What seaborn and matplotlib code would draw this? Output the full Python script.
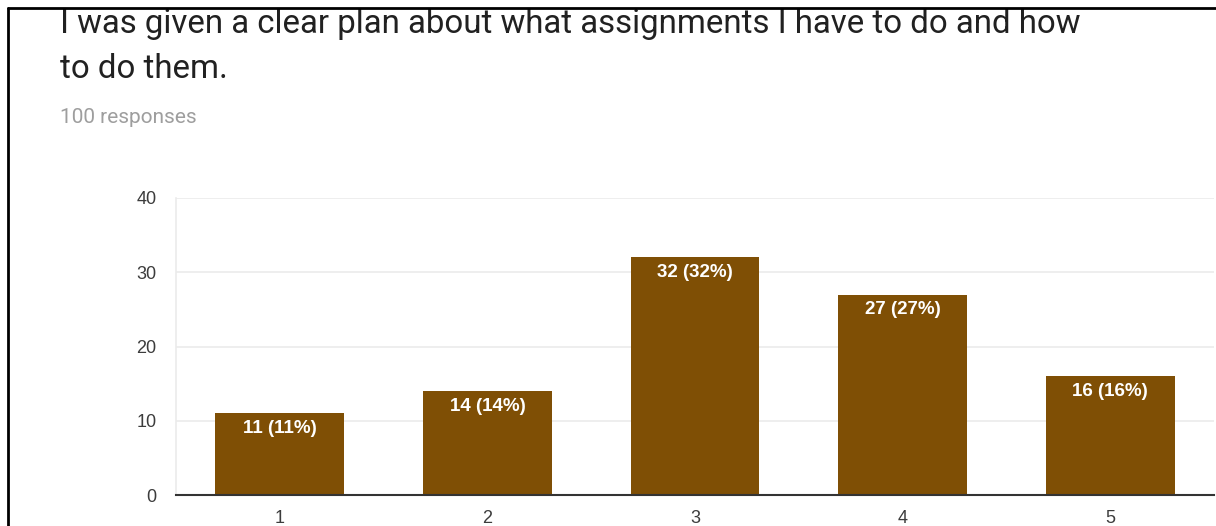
import matplotlib
matplotlib.use("Agg")
import matplotlib.pyplot as plt
import seaborn as sns
import pandas as pd
from matplotlib.patches import Rectangle
from matplotlib.lines import Line2D

# Survey answers on a 1-5 scale
ratings = ["1", "2", "3", "4", "5"]
counts = [11, 14, 32, 27, 16]
total_responses = 100
y_ticks = [0, 10, 20, 30, 40]

title_line1 = "I was given a clear plan about what assignments I have to do and how"
title_line2 = "to do them."
subtitle = f"{total_responses} responses"

sns.set_theme(style="white")
plt.rcParams["font.family"] = ["Roboto", "DejaVu Sans"]

W, H = 1216, 526
fig = plt.figure(figsize=(W / 100, H / 100), dpi=100)
fig.patch.set_facecolor("white")

def fx(px):
    return px / W

def fy(py):
    return 1 - py / H

ax = fig.add_axes([fx(176), fy(495), fx(1214) - fx(176), fy(198) - fy(495)])

df = pd.DataFrame({"rating": ratings, "count": counts})
bar_color = "#7f4f05"
sns.barplot(data=df, x="rating", y="count", color=bar_color, width=0.62,
            saturation=1, ax=ax, edgecolor="none")

ax.set_xlim(-0.5, len(ratings) - 0.5)
ax.set_ylim(0, 40)
ax.set_yticks(y_ticks)
ax.set_xlabel("")
ax.set_ylabel("")
ax.yaxis.grid(True, color="#ebebeb", linewidth=1.2)
ax.set_axisbelow(True)
for side in ["top", "right"]:
    ax.spines[side].set_visible(False)
ax.spines["left"].set_color("#ebebeb")
ax.spines["left"].set_linewidth(1.2)
ax.spines["bottom"].set_color("#333333")
ax.spines["bottom"].set_linewidth(1.5)
ax.tick_params(axis="both", length=0, labelsize=13, colors="#444444")
ax.tick_params(axis="y", pad=14)
ax.tick_params(axis="x", pad=11)
for lbl in ax.get_xticklabels() + ax.get_yticklabels():
    lbl.set_family(["Liberation Sans", "DejaVu Sans"])
    lbl.set_color("#3c3c3c")

# Value labels inside the top of each bar
for i, c in enumerate(counts):
    pct = round(100 * c / total_responses)
    ax.annotate(f"{c} ({pct}%)", xy=(i, c), xytext=(0, -5),
                textcoords="offset points", ha="center", va="top",
                color="white", fontsize=13.5, fontweight="bold",
                family=["Liberation Sans", "DejaVu Sans"])

# Header text
fig.text(fx(60), fy(33), title_line1, fontsize=23.8, color="#212121",
         ha="left", va="baseline")
fig.text(fx(60), fy(78), title_line2, fontsize=23.8, color="#212121",
         ha="left", va="baseline")
fig.text(fx(60), fy(123), subtitle, fontsize=15, color="#9e9e9e",
         ha="left", va="baseline")

# Frame: white band above the top rule, then the black rules
fig.add_artist(Rectangle((0, fy(8)), 1, 1 - fy(8), transform=fig.transFigure,
                         facecolor="white", edgecolor="none", zorder=10))
fig.add_artist(Line2D([fx(8), 1], [fy(8), fy(8)], transform=fig.transFigure,
                      color="black", linewidth=2, zorder=11))
fig.add_artist(Line2D([fx(8), fx(8)], [0, fy(8)], transform=fig.transFigure,
                      color="black", linewidth=2, zorder=11))

fig.savefig("out.png", dpi=100, facecolor="white")
